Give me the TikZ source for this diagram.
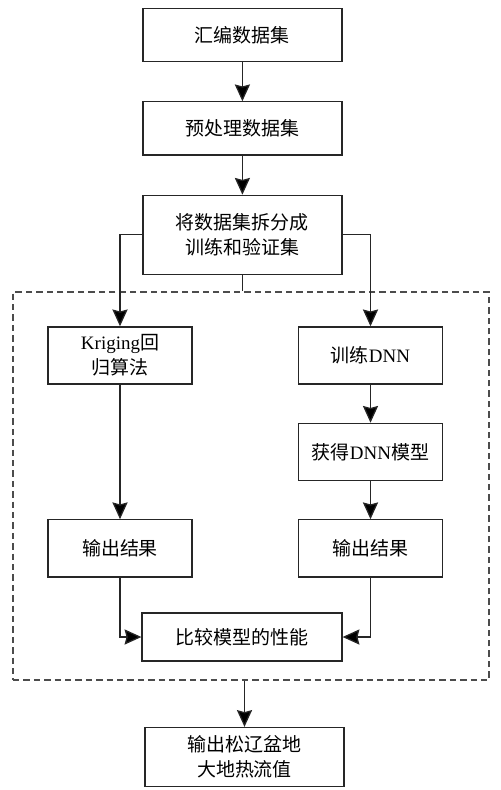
\documentclass[tikz,border=0pt]{standalone}
\usepackage{fontspec}
\setmainfont{Liberation Serif}
\newfontfamily\cjk{Noto Sans CJK SC}
\usetikzlibrary{positioning, arrows.meta}

\begin{document}
\begin{tikzpicture}[
    box/.style={
        rectangle,
        draw=black!85, line width=0.9pt,
        align=center,
        font=\fontsize{13.5}{17.8}\selectfont,
        minimum width=4.975cm,
        minimum height=1.33cm
    },
    smallbox/.style={
        box,
        minimum width=3.6cm,
        minimum height=1.43cm
    },
    frame/.style={
        draw=black!70, line width=0.8pt,
        dash pattern=on 0.16cm off 0.1cm,
        minimum width=11.9cm,
        minimum height=9.7cm
    },
    arr/.style={-{Stealth[width=0.38cm, length=0.42cm, inset=0.05cm, fill=black]}, line width=0.9pt, draw=black!85}
]
\useasboundingbox (0,0) rectangle (12.5,-19.75);

\node[box] (collect) at (6.06,-0.875) {\cjk 汇编数据集};
\node[box, below=0.975cm of collect] (prep) {\cjk 预处理数据集};
\node[box, below=0.975cm of prep, minimum height=1.975cm] (split) {\cjk 将数据集拆分成\\\cjk 训练和验证集};

% dashed frame round the two models
\node[frame] (group) at (6.275,-12.15) {};

\node[smallbox] (krig) at (3.0,-8.8875) {Kriging{\cjk 回}\\{\cjk 归算法}};
\node[smallbox] (train) at (9.2625,-8.8875) {{\cjk 训练}DNN};
\node[smallbox, below=0.95cm of train] (dnn) {{\cjk 获得}DNN{\cjk 模型}};
\node[smallbox, below=0.95cm of dnn] (outR) {\cjk 输出结果};
\node[smallbox] (outL) at (krig |- outR) {\cjk 输出结果};
\node[box, minimum width=5cm, minimum height=1.2cm] (comp) at (6.05,-15.925) {\cjk 比较模型的性能};

\node[box, minimum height=1.475cm] (final) at (6.1125,-18.925) {\cjk 输出松辽盆地\\\cjk 大地热流值};

\draw[arr] (collect) -- (prep);
\draw[arr] (prep) -- (split);
\draw[arr] (split.west) -| (krig.north);
\draw[arr] (split.east) -| (train.north);
\draw[line width=0.9pt, draw=black!85] (split.south) -- (split.south |- group.north);

\draw[arr] (krig) -- (outL);
\draw[arr] (train) -- (dnn);
\draw[arr] (dnn) -- (outR);
\draw[arr] (outL.south) |- (comp.west);
\draw[arr] (outR.south) |- (comp.east);

\draw[arr] (final.north |- group.south) -- (final.north);

\end{tikzpicture}
\end{document}
